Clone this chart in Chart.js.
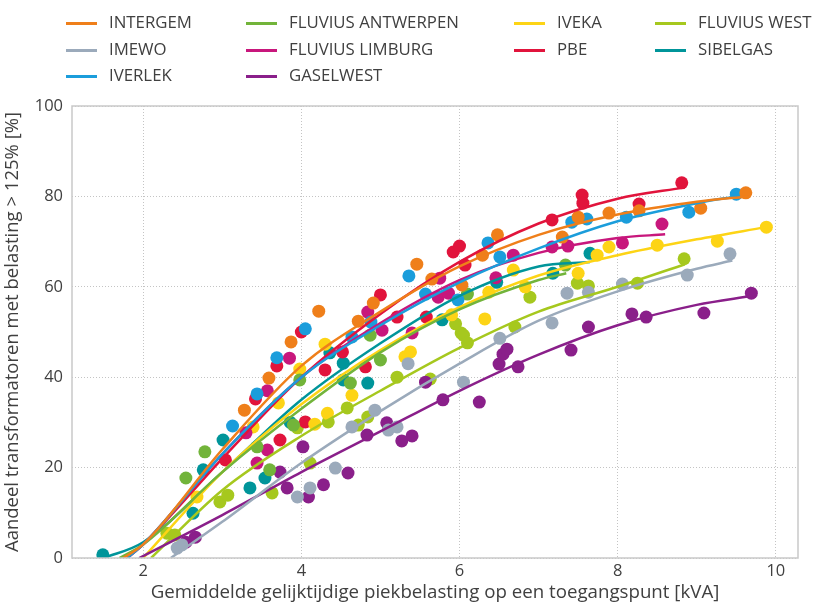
<!DOCTYPE html>
<html>
<head>
<meta charset="utf-8">
<script src="https://cdn.jsdelivr.net/npm/chart.js@4/dist/chart.umd.min.js"></script>
<style>
  body { margin: 0; background: #fff; }
  #wrap { position: relative; width: 814px; height: 604px; }
  #chart { position: absolute; left: 0; top: 0; }
  #legend { position: absolute; left: 0; top: 0; width: 814px; height: 92px;
    font-family: 'Open Sans', sans-serif; font-size: 16.8px; color: #404040; }
  .item { position: absolute; height: 20px; line-height: 20px; white-space: nowrap; }
  .item span.ln { display: inline-block; width: 31px; height: 3px; vertical-align: middle; margin-right: 12px; }
</style>
</head>
<body>
<div id="wrap">
  <canvas id="chart" width="814" height="604"></canvas>
  <div id="legend"></div>
</div>
<script>
// Reeksen (gemeten punten + trendlijn)
const seriesNames = ['INTERGEM', 'IMEWO', 'IVERLEK', 'FLUVIUS ANTWERPEN', 'FLUVIUS LIMBURG',
  'GASELWEST', 'IVEKA', 'PBE', 'FLUVIUS WEST', 'SIBELGAS'];
const seriesColors = ['#EF7F1A', '#9BAABB', '#1B9DDB', '#72B43A', '#C8177C',
  '#8A1F8A', '#FDD415', '#E1143C', '#A6C81E', '#00959A'];

const intergemPts = [[3.28,32.7],[3.59,39.8],[3.87,47.8],[4.22,54.6],[4.72,52.4],[4.91,56.4],[5.46,65],
  [5.65,61.7],[6.03,60.4],[6.29,67],[6.48,71.5],[7.30,71],[7.50,75.4],[7.89,76.3],[8.27,76.8],[9.05,77.4],[9.62,80.8]];
const intergemFitX = [1.75, 2, 3, 4, 5, 6, 7, 8, 9, 9.65];
const intergemFitY = [0, 3, 24, 42.5, 54.5, 64.5, 71.5, 76, 78.8, 80];

const imewoPts = [[2.43,2.2],[2.49,2.9],[3.95,13.5],[4.11,15.5],[4.43,19.9],[4.64,29],[4.93,32.7],[5.1,28.3],
  [5.21,29],[5.35,43],[6.05,38.9],[6.51,48.6],[7.17,52],[7.36,58.6],[7.63,58.8],[8.06,60.6],[8.88,62.6],[9.42,67.3]];
const imewoFitX = [2.35, 3, 4, 5, 6, 7, 8, 9, 9.45];
const imewoFitY = [0, 8, 21, 32.5, 43, 52.5, 59, 64, 65.8];

const iverlekPts = [[3.13,29.2],[3.44,36.3],[3.69,44.3],[4.05,50.7],[4.64,48.9],[4.88,52.2],[5.36,62.4],[5.57,58.4],
  [5.98,57.1],[6.36,69.7],[6.51,66.6],[7.42,74.3],[7.61,75],[8.11,75.4],[8.90,76.5],[9.5,80.5]];
const iverlekFitX = [1.8, 2, 3, 4, 5, 6, 7, 8, 9, 9.5];
const iverlekFitY = [0, 3, 23, 40, 51.5, 61, 68.5, 74.5, 78.5, 80];

const antwerpenPts = [[2.54,17.7],[2.78,23.5],[3.44,24.6],[3.6,19.5],[3.9,29.4],[3.98,39.4],[4.62,38.7],
  [4.87,49.3],[5.0,43.8],[6.1,58.4],[7.34,64.8]];
const antwerpenFitX = [1.7, 2, 3, 4, 5, 6, 7, 7.35];
const antwerpenFitY = [0, 3, 19, 33, 45.5, 55, 61.5, 63];

const limburgPts = [[3.30,27.7],[3.44,21],[3.57,37],[3.57,23.9],[3.85,44.2],[4.84,54.4],[5.02,50.4],[5.40,49.8],
  [5.73,57.7],[5.75,61.9],[5.86,58.6],[6.46,62],[6.68,67],[7.17,68.8],[7.37,69],[8.06,69.7],[8.56,73.9]];
const limburgFitX = [1.8, 2, 3, 4, 5, 6, 7, 8, 8.6];
const limburgFitY = [0, 3, 23, 40, 52, 61.5, 67.5, 70.8, 71.6];

const gaselwestPts = [[2.54,3.5],[2.66,4.6],[3.73,19],[3.82,15.5],[4.02,24.6],[4.09,13.5],[4.28,16.2],[4.59,18.8],
  [4.83,27.2],[5.08,29.9],[5.27,25.9],[5.4,27],[5.57,38.9],[5.79,35],[6.25,34.5],[6.5,42.9],[6.55,45.1],[6.6,46.2],
  [6.74,42.3],[7.41,46],[7.63,51.1],[8.18,54],[8.36,53.3],[9.09,54.2],[9.69,58.6]];
const gaselwestFitX = [1.95, 3, 4, 5, 6, 7, 8, 9, 9.7];
const gaselwestFitY = [0, 9.5, 19, 28, 37, 45, 51.5, 56, 58];

const ivekaPts = [[2.68,13.5],[3.39,29],[3.71,34.3],[3.98,41.8],[4.17,29.6],[4.30,47.3],[4.33,32],[4.64,36],
  [5.31,44.5],[5.38,45.6],[5.9,53.8],[6.32,52.9],[6.37,58.8],[6.68,63.7],[6.83,60],[7.5,63],[7.74,67],[7.89,68.8],
  [8.5,69.2],[9.26,70.1],[9.88,73.2]];
const ivekaFitX = [2, 3, 4, 5, 6, 7, 8, 9, 9.87];
const ivekaFitY = [0, 19, 34, 46, 55.5, 62.5, 67, 70.5, 73.2];

const pbePts = [[3.04,21.7],[3.42,35.2],[3.69,42.5],[3.73,26.1],[4.0,50],[4.05,30.1],[4.30,41.6],[4.52,45.6],
  [4.81,42.3],[5.0,58.2],[5.21,53.3],[5.58,53.3],[5.92,67.7],[6.0,69],[6.07,64.8],[7.17,74.8],[7.55,80.3],
  [7.56,78.5],[8.27,78.3],[8.81,83]];
const pbeFitX = [1.8, 2, 3, 4, 5, 6, 7, 8, 8.85];
const pbeFitY = [0, 3, 22, 40, 54, 65.5, 74, 79.5, 82];

const westPts = [[2.3,5.5],[2.4,5.1],[2.97,12.4],[3.07,13.9],[3.63,14.4],[3.95,28.8],[4.11,21],[4.34,30.1],
  [4.58,33.2],[4.72,29.4],[4.84,31.2],[5.21,40],[5.63,39.6],[5.95,51.8],[6.02,49.8],[6.05,49.3],[6.1,47.6],
  [6.7,51.1],[6.89,57.7],[7.49,60.8],[7.63,60.2],[8.25,60.8],[8.84,66.2]];
const westFitX = [2.1, 3, 4, 5, 6, 7, 8, 8.85];
const westFitY = [0, 15, 27, 37, 46.5, 54.5, 60, 65];

const sibelgasPts = [[1.49,0.7],[2.63,9.9],[2.76,19.5],[3.01,26.1],[3.35,15.5],[3.54,17.7],[3.86,30],[4.36,45.4],
  [4.53,43.1],[4.53,39.4],[4.84,38.7],[5.78,52.7],[6.47,61],[7.18,63],[7.65,67.4]];
const sibelgasFitX = [1.5, 2, 3, 4, 5, 6, 7, 7.65];
const sibelgasFitY = [0, 3.5, 19, 35, 47.5, 58, 64.5, 65.5];

const allPts = [intergemPts, imewoPts, iverlekPts, antwerpenPts, limburgPts, gaselwestPts, ivekaPts, pbePts, westPts, sibelgasPts];
const allFitX = [intergemFitX, imewoFitX, iverlekFitX, antwerpenFitX, limburgFitX, gaselwestFitX, ivekaFitX, pbeFitX, westFitX, sibelgasFitX];
const allFitY = [intergemFitY, imewoFitY, iverlekFitY, antwerpenFitY, limburgFitY, gaselwestFitY, ivekaFitY, pbeFitY, westFitY, sibelgasFitY];

const xTicks = [2, 4, 6, 8, 10];
const yTicks = [0, 20, 40, 60, 80, 100];

const FONT = "'Open Sans', sans-serif";

// datasets opbouwen: eerst de punten, dan de trendlijnen erover
const datasets = [];
seriesNames.forEach((name, i) => {
  datasets.push({
    type: 'scatter',
    label: name + ' punten',
    data: allPts[i].map(p => ({ x: p[0], y: p[1] })),
    backgroundColor: seriesColors[i],
    borderWidth: 0,
    pointRadius: 6.5,
    order: 2
  });
});
seriesNames.forEach((name, i) => {
  datasets.push({
    type: 'line',
    label: name,
    data: allFitX[i].map((x, k) => ({ x: x, y: allFitY[i][k] })),
    borderColor: seriesColors[i],
    borderWidth: 2.5,
    pointRadius: 0,
    fill: false,
    cubicInterpolationMode: 'monotone',
    order: 1
  });
});

// kader rond het plotgebied
const frame = {
  id: 'frame',
  afterDraw(c) {
    const a = c.chartArea, ctx = c.ctx;
    ctx.save();
    ctx.strokeStyle = '#c9c9c9';
    ctx.lineWidth = 1.5;
    ctx.strokeRect(a.left, a.top, a.right - a.left, a.bottom - a.top);
    ctx.restore();
  }
};

new Chart(document.getElementById('chart'), {
  data: { datasets: datasets },
  options: {
    responsive: false,
    animation: false,
    layout: { padding: { top: 106, right: 16, left: 0, bottom: 0 } },
    plugins: { legend: { display: false }, tooltip: { enabled: false } },
    scales: {
      x: {
        type: 'linear', min: 1.1, max: 10.28,
        afterBuildTicks: s => { s.ticks = xTicks.map(v => ({ value: v })); },
        afterFit: s => { s.height = 46; },
        ticks: { color: '#404040', font: { family: FONT, size: 16.5 }, padding: 3 },
        grid: { color: '#c4c4c4', lineWidth: 1, drawTicks: false },
        border: { display: false, dash: [1, 2] }, // gestippeld raster
        title: { display: true, text: 'Gemiddelde gelijktijdige piekbelasting op een toegangspunt [kVA]',
          color: '#404040', font: { family: FONT, size: 18.7 }, padding: { top: 0, bottom: 0 } }
      },
      y: {
        type: 'linear', min: 0, max: 100,
        afterBuildTicks: s => { s.ticks = yTicks.map(v => ({ value: v })); },
        afterFit: s => { s.width = 72; },
        ticks: { color: '#404040', font: { family: FONT, size: 16.5 }, padding: 9 },
        grid: { color: '#c4c4c4', lineWidth: 1, drawTicks: false },
        border: { display: false, dash: [1, 2] },
        title: { display: true, text: 'Aandeel transformatoren met belasting > 125% [%]',
          color: '#404040', font: { family: FONT, size: 18.5 }, padding: { top: 2, bottom: 0 } }
      }
    }
  },
  plugins: [frame]
});

// legende in 4 kolommen, 3 rijen
const legendCols = [[0, 1, 2], [3, 4, 5], [6, 7], [8, 9]];
const colLeft = [66, 246, 514, 655];
const rowTop = [12, 39, 65];
const legend = document.getElementById('legend');
legendCols.forEach((col, ci) => {
  col.forEach((si, ri) => {
    const d = document.createElement('div');
    d.className = 'item';
    d.style.left = colLeft[ci] + 'px';
    d.style.top = rowTop[ri] + 'px';
    d.innerHTML = '<span class="ln" style="background:' + seriesColors[si] + '"></span>' + seriesNames[si];
    legend.appendChild(d);
  });
});
</script>
</body>
</html>
